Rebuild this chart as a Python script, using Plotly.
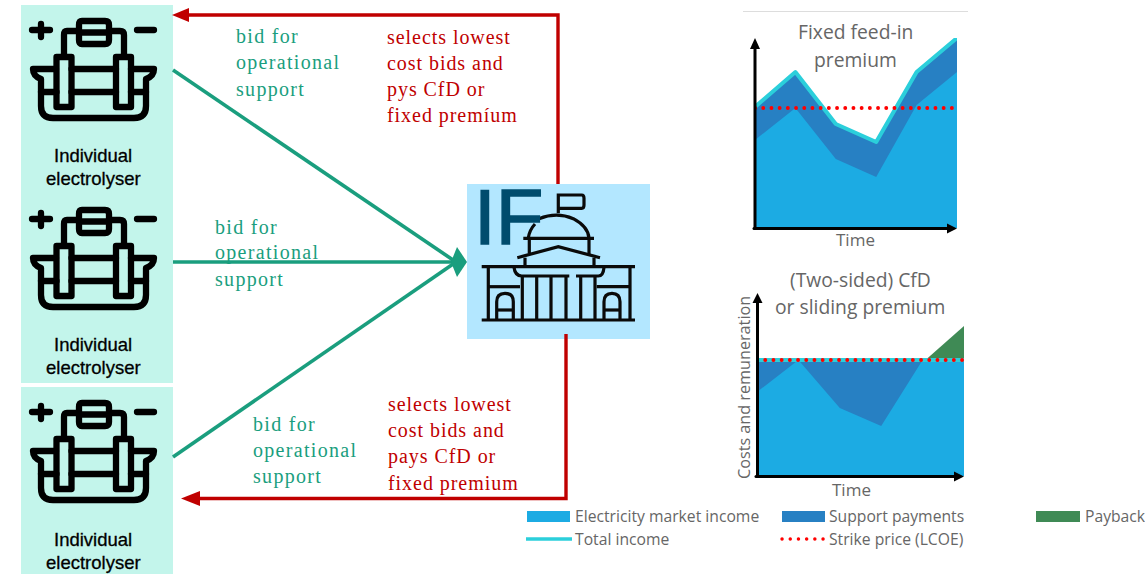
import plotly.graph_objects as go

# ---------- chart data ----------
time_idx = [0, 1, 2, 3, 4, 5]
fip_market = [88, 120, 69, 51, 123, 156]
fip_total = [121, 156, 104, 86, 156, 190]
fip_strike = [120, 120, 120, 120, 120, 120]
cfd_market = [84, 116, 68, 50, 116, 116]
cfd_total = [116, 116, 116, 116, 116, 116]
cfd_strike = [116, 116, 116, 116, 116, 116]
payback_time = [4.07, 5]
payback_base = [116, 116]
payback_top = [116, 150]

# ---------- text ----------
bid_lines = ["bid for", "operational", "support"]
red_top = ["selects lowest", "cost bids and", "pys CfD or", "fixed premíum"]
red_bottom = ["selects lowest", "cost bids and", "pays CfD or", "fixed premium"]

# ---------- colours ----------
C_MARKET = "#1CABE3"
C_SUPPORT = "#2780C3"
C_PAYBACK = "#3F8A55"
C_TOTAL = "#2BCFDB"
C_STRIKE = "#FF0000"
C_GREEN = "#1A9E7E"
C_RED = "#C00000"
C_MINT = "#C3F5EB"
C_SKY = "#B3E7FF"
C_GREY = "#666666"

W, H = 1145, 574
fig = go.Figure()


def dom_x(a, b):
    return [a / W, b / W]


def dom_y(top, bottom):
    return [1 - bottom / H, 1 - top / H]


def area(x, y, color, xa, ya, fill="tozeroy"):
    fig.add_trace(go.Scatter(x=x, y=y, mode="lines", fill=fill, fillcolor=color,
                             line=dict(width=0, color=color), xaxis=xa, yaxis=ya,
                             hoverinfo="skip", showlegend=False))


def line(x, y, color, width, xa, ya, dash="solid"):
    fig.add_trace(go.Scatter(x=x, y=y, mode="lines", line=dict(width=width, color=color, dash=dash),
                             xaxis=xa, yaxis=ya, hoverinfo="skip", showlegend=False, cliponaxis=False))


DOTS = "0.1px,8.1px"

# Fixed feed-in premium
area(time_idx, fip_total, C_SUPPORT, "x2", "y2")
area(time_idx, fip_market, C_MARKET, "x2", "y2")
line(time_idx, fip_total, C_TOTAL, 4, "x2", "y2")
line(time_idx, fip_strike, C_STRIKE, 3.8, "x2", "y2", DOTS)

# CfD
area(time_idx, cfd_total, C_SUPPORT, "x3", "y3")
area(time_idx, cfd_market, C_MARKET, "x3", "y3")
fig.add_trace(go.Scatter(x=payback_time, y=payback_base, mode="lines", line=dict(width=0),
                         xaxis="x3", yaxis="y3", hoverinfo="skip", showlegend=False))
area(payback_time, payback_top, C_PAYBACK, "x3", "y3", fill="tonexty")
line(time_idx, cfd_total, C_TOTAL, 4, "x3", "y3")
line(time_idx, cfd_strike, C_STRIKE, 3.8, "x3", "y3", DOTS)

shapes = []


def rect(x0, y0, x1, y1, color, layer="below"):
    shapes.append(dict(type="rect", xref="x", yref="y", x0=x0, y0=y0, x1=x1, y1=y1,
                       fillcolor=color, line=dict(width=0), layer=layer))


def path(d, color, width, fill=None):
    s = dict(type="path", xref="x", yref="y", path=d, layer="above",
             line=dict(color=color, width=width))
    if fill:
        s["fillcolor"] = fill
        s["line"] = dict(color=fill, width=0)
    shapes.append(s)


# background panels
rect(21, 5, 173, 383, C_MINT)
rect(21, 387, 173, 574, C_MINT)
rect(467, 184, 650, 339, C_SKY)
shapes.append(dict(type="line", xref="x", yref="y", x0=743, x1=968, y0=11.5, y1=11.5,
                   line=dict(color="#DDDDDD", width=1), layer="below"))


def electrolyser(dy):
    def p(*cmd):
        out = []
        for c in cmd:
            if isinstance(c, str):
                out.append(c)
            else:
                out.append(f"{c[0]},{c[1] + dy}")
        return " ".join(out)
    w = 6.3
    col = "#000000"
    segs = [
        p("M", (32, 30), "L", (50, 30)),
        p("M", (41, 24), "L", (41, 37)),
        p("M", (137, 30), "L", (154, 30)),
        p("M", (82, 21), "L", (105, 21), "Q", (109, 21), (109, 25), "L", (109, 40), "Q", (109, 44), (105, 44),
          "L", (82, 44), "Q", (79, 44), (79, 40), "L", (79, 25), "Q", (79, 21), (82, 21), "Z"),
        p("M", (79, 32.5), "L", (109, 32.5)),
        p("M", (79, 31), "L", (67, 31), "Q", (64, 31), (64, 35), "L", (64, 56)),
        p("M", (109, 31), "L", (120, 31), "Q", (124, 31), (124, 35), "L", (124, 56)),
        p("M", (56.5, 57), "L", (71.5, 57), "L", (71.5, 107), "L", (56.5, 107), "Z"),
        p("M", (116, 57), "L", (131, 57), "L", (131, 107), "L", (116, 107), "Z"),
        p("M", (56, 69), "L", (33, 69), "Q", (33, 76), (41, 79), "L", (41, 106), "Q", (41, 118), (53, 118),
          "L", (134, 118), "Q", (146, 118), (146, 106), "L", (146, 79), "Q", (154, 76), (154, 69), "L", (131, 69)),
        p("M", (71.5, 69), "L", (116, 69)),
        p("M", (71.5, 92), "L", (116, 92)),
        p("M", (41, 92), "L", (56.5, 92)),
        p("M", (131, 92), "L", (146, 92)),
    ]
    for s in segs:
        path(s, col, w)


for off in (0, 189, 382):
    electrolyser(off)


# government building, drawn in a local grid
def gx(v):
    return 440 + v / 3


def gy(v):
    return 170 + v / 3


def gov(points):
    out = []
    for c in points:
        if isinstance(c, str):
            out.append(c)
        else:
            out.append(f"{gx(c[0]):.1f},{gy(c[1]):.1f}")
    path(" ".join(out), "#0A0A0A", 3.2)


gov(["M", (355, 130), "L", (355, 75), "L", (425, 75), "Q", (432, 75), (432, 85), "L", (432, 105),
     "Q", (432, 115), (425, 115), "L", (355, 115)])
gov(["M", (297, 146), "Q", (350, 125), (400, 146), "Q", (445, 170), (447, 205)])
gov(["M", (265, 205), "Q", (268, 180), (285, 162)])
gov(["M", (250, 205), "L", (462, 205)])
gov(["M", (268, 205), "L", (268, 250)])
gov(["M", (447, 205), "L", (447, 255)])
gov(["M", (232, 263), "L", (355, 230), "L", (480, 263)])
gov(["M", (255, 263), "L", (255, 290)])
gov(["M", (462, 263), "L", (462, 290)])
gov(["M", (125, 290), "L", (585, 290)])
gov(["M", (222, 292), "Q", (225, 318), (245, 318), "L", (388, 318)])
gov(["M", (408, 318), "L", (475, 318), "Q", (490, 318), (492, 292)])
for cx in (247, 290, 333, 378, 422, 465):
    gov(["M", (cx, 318), "L", (cx, 450)])
gov(["M", (145, 290), "L", (145, 450)])
gov(["M", (145, 350), "L", (240, 350)])
gov(["M", (570, 290), "L", (570, 450)])
gov(["M", (470, 350), "L", (568, 350)])
for a, b in ((170, 220), (492, 540)):
    m = (a + b) / 2
    gov(["M", (a, 450), "L", (a, 395), "Q", (a, 370), (m, 370), "Q", (b, 370), (b, 395), "L", (b, 450)])
    gov(["M", (a, 420), "L", (b, 420)])
gov(["M", (125, 450), "L", (585, 450)])

# green arrows
for y0 in (70, 262, 457):
    path(f"M 173,{y0} L 456,262", C_GREEN, 3.6)
path("M 467,262 L 457,247 L 451,262 L 457,277 Z", C_GREEN, 0, fill=C_GREEN)

# red arrows
path("M 558,184 L 558,15 L 186,15", C_RED, 3.4)
path("M 172,15 L 189,8 L 189,22 Z", C_RED, 0, fill=C_RED)
path("M 566,334 L 566,498.5 L 196,498.5", C_RED, 3.4)
path("M 181,498.5 L 200,491 L 200,506 Z", C_RED, 0, fill=C_RED)

# chart axes
path("M 755,228.5 L 755,48", "#000000", 3)
path("M 755,38 L 750,49 L 760,49 Z", "#000000", 0, fill="#000000")
path("M 754,228.5 L 948,228.5", "#000000", 3)
path("M 957,228.5 L 947,223.5 L 947,233.5 Z", "#000000", 0, fill="#000000")
path("M 757.5,476.5 L 757.5,302", "#000000", 3)
path("M 757.5,293 L 752.5,303 L 762.5,303 Z", "#000000", 0, fill="#000000")
path("M 756,476.5 L 955,476.5", "#000000", 3)
path("M 964,476.5 L 954,471.5 L 954,481.5 Z", "#000000", 0, fill="#000000")

# legend keys
rect(527, 511, 570, 522, C_MARKET)
rect(782, 511, 825, 522, C_SUPPORT)
rect(1036, 511, 1080, 522, C_PAYBACK)
shapes.append(dict(type="line", xref="x", yref="y", x0=526, x1=572, y0=539, y1=539,
                   line=dict(color=C_TOTAL, width=3.5), layer="above"))
shapes.append(dict(type="line", xref="x", yref="y", x0=782, x1=825, y0=539, y1=539,
                   line=dict(color=C_STRIKE, width=3.4, dash="0.1px,8.1px"), layer="above"))

ann = []


def text(x, y, s, size, color, family, anchor="left", angle=0):
    ann.append(dict(xref="x", yref="y", x=x, y=y, text=s, showarrow=False, xanchor=anchor, yanchor="middle",
                    align=anchor, textangle=angle, borderpad=0,
                    font=dict(size=size, color=color, family=family)))


SERIF = "Liberation Serif"
SANS = "Liberation Sans"
UI = "Open Sans"
for x, ys in ((234.5, (35.5, 62.5, 89.5)), (213.5, (226.5, 252.5, 279.5)), (251.5, (423.5, 450.5, 476.5))):
    for y, s in zip(ys, bid_lines):
        text(x, y, s, 20, C_GREEN, SERIF)
for y, s in zip((36.5, 62.5, 89.5, 115.5), red_top):
    text(385.5, y, s, 20, C_RED, SERIF)
for y, s in zip((403.5, 429.5, 456.5, 483.5), red_bottom):
    text(386.5, y, s, 20, C_RED, SERIF)
for dy in (0, 189, 384):
    text(93, 155 + dy, "Individual", 18.5, "#000000", SANS, "center")
    text(93, 178 + dy, "electrolyser", 18.5, "#000000", SANS, "center")
text(473, 217, "IF", 78, "#004C6D", SANS)
text(855, 31, "Fixed feed-in", 19.3, C_GREY, UI, "center")
text(855, 59, "premium", 19.3, C_GREY, UI, "center")
text(855, 239.5, "Time", 17, C_GREY, UI, "center")
text(860, 279, "(Two-sided) CfD", 19.3, C_GREY, UI, "center")
text(860, 306.5, "or sliding premium", 19.3, C_GREY, UI, "center")
text(851, 489.5, "Time", 17, C_GREY, UI, "center")
text(744, 388, "Costs and remuneration", 16.2, C_GREY, UI, "center", -90)
text(574, 516, "Electricity market income", 15.7, C_GREY, UI)
text(828, 516, "Support payments", 15.7, C_GREY, UI)
text(1084, 516, "Payback", 15.7, C_GREY, UI)
text(574, 539, "Total income", 15.7, C_GREY, UI)
text(828, 539, "Strike price (LCOE)", 15.7, C_GREY, UI)

hidden = dict(visible=False, fixedrange=True)
fig.update_layout(
    width=W, height=H, margin=dict(l=0, r=0, t=0, b=0), autosize=False,
    paper_bgcolor="white", plot_bgcolor="rgba(0,0,0,0)", showlegend=False,
    xaxis=dict(range=[0, W], domain=[0, 1], **hidden),
    yaxis=dict(range=[H, 0], domain=[0, 1], **hidden),
    xaxis2=dict(range=[0, 5], domain=dom_x(755, 957), anchor="y2", **hidden),
    yaxis2=dict(range=[0, 190], domain=dom_y(38, 228), anchor="x2", **hidden),
    xaxis3=dict(range=[0, 5], domain=dom_x(757, 964), anchor="y3", **hidden),
    yaxis3=dict(range=[0, 150], domain=dom_y(326, 476), anchor="x3", **hidden),
    shapes=shapes, annotations=ann,
)

post = """
document.documentElement.style.margin='0';
document.body.style.margin='0';
document.body.style.overflow='hidden';
document.querySelectorAll('.annotation-text').forEach(function(t){
  var fam=t.style.fontFamily||'', col=t.style.fill||'', txt=t.textContent||'';
  if(fam.indexOf('Serif')>=0){
    t.style.letterSpacing=(col.indexOf('192')>=0)?'0.95px':'1.3px';
  }
  if(txt==='IF'){t.style.stroke='#004C6D';t.style.strokeWidth='1.5px';}
  if(txt==='Individual'||txt==='electrolyser'){t.style.stroke='#000';t.style.strokeWidth='0.3px';}
});
document.querySelectorAll('path').forEach(function(p){
  var s=p.style.stroke||'';
  if(s==='rgb(255, 0, 0)'){p.style.strokeLinecap='round';}
  if(s==='rgb(43, 207, 219)'){p.style.strokeLinejoin='round';}
  if(s==='rgb(0, 0, 0)'){p.style.strokeLinecap='round';p.style.strokeLinejoin='round';}
});
"""
fig.write_html("out.html", config=dict(displayModeBar=False, staticPlot=True), post_script=post)
